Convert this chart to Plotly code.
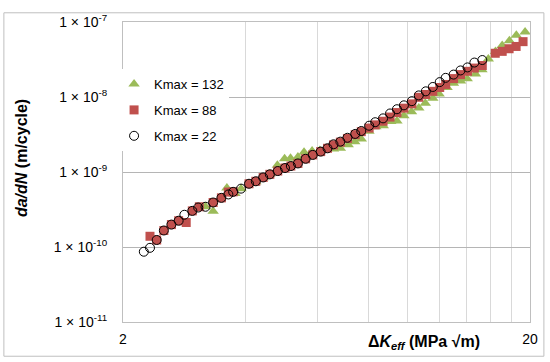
import numpy as np
import plotly.graph_objects as go

# Kmax = 132 (triangles)
dk_132 = [3.19, 3.33, 3.60, 3.77, 3.90, 4.24, 4.42, 4.59, 4.79, 4.99, 5.16, 5.38, 5.57, 5.83,
          6.09, 6.58, 6.84, 7.15, 7.42, 7.70, 8.04, 8.36, 8.72, 9.10, 9.42, 9.80, 10.23, 10.66,
          11.06, 11.54, 11.96, 12.51, 12.97, 13.50, 14.02, 14.69, 15.24, 15.80, 16.45, 17.09,
          17.80, 18.51, 19.45]
dadn_132 = [3.44e-10, 3.00e-10, 6.13e-10, 5.17e-10, 6.00e-10, 7.4e-10, 8.4e-10, 9.4e-10, 1.23e-9,
            1.50e-9, 1.53e-9, 1.59e-9, 1.83e-9, 1.91e-9, 1.94e-9, 2.02e-9, 2.08e-9, 2.30e-9,
            2.54e-9, 2.75e-9, 3.49e-9, 4.02e-9, 4.14e-9, 4.70e-9, 4.80e-9, 5.62e-9, 6.34e-9,
            7.14e-9, 8.28e-9, 9.62e-9, 1.094e-8, 1.337e-8, 1.52e-8, 1.63e-8, 1.75e-8, 2.03e-8,
            2.31e-8, 3.20e-8, 4.03e-8, 4.86e-8, 5.64e-8, 6.68e-8, 7.38e-8]

# Kmax = 88 (squares)
dk_88 = [2.33, 2.42, 2.52, 2.63, 2.74, 2.86, 2.96, 3.08, 3.33, 3.49, 3.63, 3.73, 4.08, 4.24,
         4.42, 4.59, 4.80, 5.00, 5.17, 5.38, 5.62, 5.85, 6.12, 6.36, 6.58, 6.84, 7.12, 7.44,
         7.70, 8.05, 8.33, 8.71, 9.06, 9.42, 9.80, 10.25, 10.66, 11.09, 11.54, 12.00, 12.41,
         12.98, 13.50, 14.04, 14.60, 15.27, 16.43, 17.09, 17.77, 18.49, 19.23]
dadn_88 = [1.39e-10, 1.24e-10, 1.66e-10, 1.99e-10, 2.24e-10, 2.12e-10, 3.03e-10, 3.44e-10,
           3.92e-10, 4.52e-10, 5.40e-10, 5.44e-10, 6.97e-10, 7.52e-10, 8.46e-10, 9.31e-10,
           1.03e-9, 1.13e-9, 1.20e-9, 1.30e-9, 1.50e-9, 1.69e-9, 1.87e-9, 2.07e-9, 2.30e-9,
           2.50e-9, 2.80e-9, 3.15e-9, 3.45e-9, 3.85e-9, 4.25e-9, 4.75e-9, 5.40e-9, 6.20e-9,
           7.10e-9, 8.10e-9, 9.91e-9, 1.08e-8, 1.19e-8, 1.34e-8, 1.47e-8, 1.76e-8, 1.99e-8,
           2.20e-8, 2.43e-8, 2.63e-8, 3.83e-8, 4.06e-8, 4.40e-8, 4.72e-8, 5.47e-8]

# Kmax = 22 (open circles)
dk_22 = [2.25, 2.33, 2.42, 2.52, 2.63, 2.74, 2.83, 2.96, 3.06, 3.19, 3.33, 3.49, 3.63, 3.73,
         3.90, 4.08, 4.24, 4.42, 4.59, 4.80, 5.00, 5.17, 5.38, 5.62, 5.85, 6.12, 6.36, 6.58,
         6.84, 7.12, 7.44, 7.70, 8.05, 8.33, 8.71, 9.06, 9.42, 9.80, 10.25, 10.66, 11.09,
         11.54, 12.00, 12.41, 12.98, 13.50, 14.04, 14.60, 15.27]
dadn_22 = [8.65e-11, 9.75e-11, 1.24e-10, 1.66e-10, 1.99e-10, 2.24e-10, 2.69e-10, 3.03e-10,
           3.36e-10, 3.44e-10, 3.92e-10, 4.52e-10, 5.02e-10, 5.44e-10, 6.00e-10, 6.97e-10,
           7.52e-10, 8.46e-10, 9.31e-10, 1.03e-9, 1.13e-9, 1.20e-9, 1.30e-9, 1.50e-9, 1.69e-9,
           1.87e-9, 2.07e-9, 2.34e-9, 2.54e-9, 2.86e-9, 3.22e-9, 3.52e-9, 4.14e-9, 4.61e-9,
           5.19e-9, 6.03e-9, 6.87e-9, 7.74e-9, 8.80e-9, 1.05e-8, 1.19e-8, 1.36e-8, 1.58e-8,
           1.80e-8, 1.99e-8, 2.26e-8, 2.48e-8, 2.88e-8, 3.11e-8]

series_names = ["Kmax = 132", "Kmax = 88", "Kmax = 22"]

x_ticks = [2, 20]
x_ticktext = ["2", "20"]
x_minor_grid = [4, 6, 8, 10, 12, 14, 16, 18]
y_ticks = [1e-11, 1e-10, 1e-9, 1e-8, 1e-7]
y_ticktext = ["1 × 10<sup>-11</sup>", "1 × 10<sup>-10</sup>", "1 × 10<sup>-9</sup>",
              "1 × 10<sup>-8</sup>", "1 × 10<sup>-7</sup>"]

FONT = "Liberation Sans, Arial, sans-serif"

# plot-area geometry in pixels
L, R, T, B = 123, 533, 12.5, 321.7
W, H = R - L, B - T


def px(xp):
    return (xp - L) / W


def py(yp):
    return (B - yp) / H


fig = go.Figure()
fig.add_trace(go.Scatter(x=dk_132, y=dadn_132, mode="markers", name=series_names[0],
                         legendgroup="a",
                         marker=dict(symbol="triangle-up", size=10, color="#9BBB59",
                                     line=dict(width=0))))
fig.add_trace(go.Scatter(x=dk_88, y=dadn_88, mode="markers", name=series_names[1],
                         legendgroup="b",
                         marker=dict(symbol="square", size=9, color="#C0504D",
                                     line=dict(width=0))))
fig.add_trace(go.Scatter(x=dk_22, y=dadn_22, mode="markers", name=series_names[2],
                         legendgroup="c",
                         marker=dict(symbol="circle-open", size=9, color="#000000",
                                     line=dict(width=1, color="#000000"))))

fig.update_xaxes(type="log", range=[np.log10(2), np.log10(20)],
                 tickmode="array", tickvals=x_ticks, ticktext=x_ticktext,
                 showgrid=True, gridcolor="#D9D9D9", gridwidth=1,
                 minor=dict(tickmode="array", tickvals=x_minor_grid, showgrid=True,
                            gridcolor="#D9D9D9", gridwidth=1, ticks=""),
                 showline=True, linecolor="#BFBFBF", linewidth=1, mirror=True,
                 ticks="", zeroline=False, ticklabelstandoff=4,
                 tickfont=dict(family=FONT, size=14, color="#000000"))
fig.update_yaxes(type="log", range=[-11, -7],
                 tickmode="array", tickvals=y_ticks, ticktext=y_ticktext,
                 showgrid=True, gridcolor="#B5B5B5", gridwidth=1,
                 showline=True, linecolor="#BFBFBF", linewidth=1, mirror=True,
                 ticks="", zeroline=False, ticklabelstandoff=12,
                 tickfont=dict(family=FONT, size=14, color="#000000"))

annotations = [
    dict(x=px(426), xref="paper", y=py(343), yref="paper",
         text="<b>Δ<i>K</i><sub><i>eff</i></sub> (MPa √m)</b>",
         showarrow=False, xanchor="center", yanchor="middle",
         font=dict(family=FONT, size=16, color="#000000")),
    dict(x=px(21), xref="paper", y=py(153), yref="paper", textangle=-90,
         text="<b><i>da/dN</i> (m/cycle)</b>",
         showarrow=False, xanchor="center", yanchor="middle",
         font=dict(family=FONT, size=16, color="#000000")),
]

fig.update_layout(
    width=550, height=362,
    margin=dict(l=L, r=550 - R, t=T, b=362 - B, pad=0),
    paper_bgcolor="white", plot_bgcolor="white",
    font=dict(family=FONT, size=13, color="#000000"),
    showlegend=True,
    legend=dict(x=px(114), y=py(61), xanchor="left", yanchor="top",
                bgcolor="white", borderwidth=0,
                traceorder="grouped", tracegroupgap=6,
                font=dict(family=FONT, size=13, color="#000000")),
    annotations=annotations,
    shapes=[dict(type="rect", xref="paper", yref="paper",
                 x0=px(3), x1=px(547), y0=py(357), y1=py(3),
                 line=dict(color="#BFBFBF", width=1), layer="above")],
)

fig.write_html("out.html", config={"displayModeBar": False},
               post_script="document.body.style.margin='0';"
                           "document.body.style.overflow='hidden';")
